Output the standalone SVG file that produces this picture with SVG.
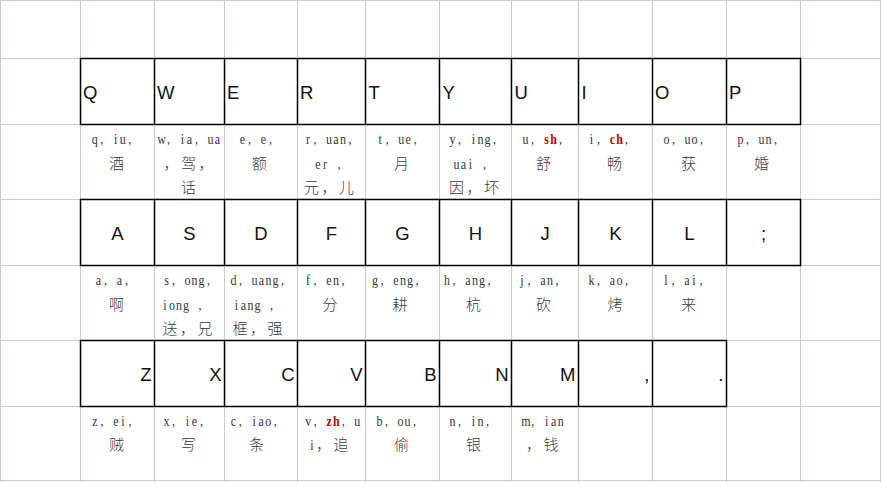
<svg xmlns="http://www.w3.org/2000/svg" width="881" height="482" viewBox="0 0 881 482">
<style>
.grid{stroke:#c9c9d9;stroke-width:1;fill:none}
.box{stroke:#000;stroke-width:1.5;fill:none}
.key{font-family:"Liberation Sans",Arial,sans-serif;font-size:18.5px;fill:#111}
.mid{text-anchor:middle}
.end{text-anchor:end}
.lat{font-family:"Liberation Serif","Times New Roman",serif;font-size:15px;text-anchor:middle;fill:#333}
.cjk{font-family:"Noto Sans CJK SC","Noto Sans CJK JP",sans-serif;font-size:15px;font-weight:300;letter-spacing:2.5px;fill:#3a3a3a}
.red{fill:#c00000;font-weight:bold}
</style>
<rect x="0" y="0" width="881" height="482" fill="#fff"/>
<g id="gridlines" class="grid">
<path d="M0.5 0V482M80.5 0V482M154.5 0V482M224.5 0V482M297.5 0V482M365.5 0V482M439.5 0V482M511.5 0V482M578.5 0V482M652.5 0V482M726.5 0V482M800.5 0V482M880.5 0V482"/>
<path d="M0 0.5H881M0 58.5H881M0 124.5H881M0 199.5H881M0 265.5H881M0 340.5H881M0 406.5H881M0 480.5H881"/>
</g>
<g id="borders" class="box">
<rect x="80.5" y="58.5" width="720" height="66"/>
<path d="M154.5 58.5V124.5M224.5 58.5V124.5M297.5 58.5V124.5M365.5 58.5V124.5M439.5 58.5V124.5M511.5 58.5V124.5M578.5 58.5V124.5M652.5 58.5V124.5M726.5 58.5V124.5"/>
<rect x="80.5" y="199.5" width="720" height="66"/>
<path d="M154.5 199.5V265.5M224.5 199.5V265.5M297.5 199.5V265.5M365.5 199.5V265.5M439.5 199.5V265.5M511.5 199.5V265.5M578.5 199.5V265.5M652.5 199.5V265.5M726.5 199.5V265.5"/>
<rect x="80.5" y="340.5" width="646" height="66"/>
<path d="M154.5 340.5V406.5M224.5 340.5V406.5M297.5 340.5V406.5M365.5 340.5V406.5M439.5 340.5V406.5M511.5 340.5V406.5M578.5 340.5V406.5M652.5 340.5V406.5"/>
</g>
<g id="row-qwerty">
<g id="key-Q"><text class="key" x="83" y="99">Q</text><text class="lat" transform="translate(91.2,144) scale(0.8,1)" x="4.375 13.125 21.875 30.625 39.375 48.125 56.875 65.625 74.375">q, iu,</text><text class="cjk" x="109" y="169">酒</text></g>
<g id="key-W"><text class="key" x="157" y="99">W</text><text class="lat" transform="translate(158,144) scale(0.8,1)" x="4.375 13.125 21.875 30.625 39.375 48.125 56.875 65.625 74.375">w, ia, ua</text><text class="cjk" x="163.5" y="169">，驾，</text><text class="cjk" x="181" y="192.5">话</text></g>
<g id="key-E"><text class="key" x="227" y="99">E</text><text class="lat" transform="translate(239,144) scale(0.8,1)" x="4.375 13.125 21.875 30.625 39.375 48.125 56.875 65.625 74.375">e, e,</text><text class="cjk" x="252" y="169">额</text></g>
<g id="key-R"><text class="key" x="300" y="99">R</text><text class="lat" transform="translate(304.5,144) scale(0.8,1)" x="4.375 13.125 21.875 30.625 39.375 48.125 56.875 65.625 74.375">r, uan,</text><text class="lat" transform="translate(314.5,169) scale(0.8,1)" x="4.375 13.125 21.875 30.625 39.375 48.125">er ,</text><text class="cjk" x="304" y="192.5">元，儿</text></g>
<g id="key-T"><text class="key" x="368.5" y="99">T</text><text class="lat" transform="translate(376.7,144) scale(0.8,1)" x="4.375 13.125 21.875 30.625 39.375 48.125 56.875 65.625 74.375">t, ue,</text><text class="cjk" x="394" y="169">月</text></g>
<g id="key-Y"><text class="key" x="442.5" y="99">Y</text><text class="lat" transform="translate(449,144) scale(0.8,1)" x="4.375 13.125 21.875 30.625 39.375 48.125 56.875 65.625 74.375">y, ing,</text><text class="lat" transform="translate(453,169) scale(0.8,1)" x="4.375 13.125 21.875 30.625 39.375 48.125">uai ,</text><text class="cjk" x="449" y="192.5">因，坏</text></g>
<g id="key-U"><text class="key" x="514.5" y="99">U</text><text class="lat" transform="translate(522,144) scale(0.8,1)" x="4.375 13.125 21.875 30.625 39.375 48.125 56.875 65.625 74.375">u, <tspan class="red">sh</tspan>,</text><text class="cjk" x="536" y="169">舒</text></g>
<g id="key-I"><text class="key" x="581.5" y="99">I</text><text class="lat" transform="translate(588,144) scale(0.8,1)" x="4.375 13.125 21.875 30.625 39.375 48.125 56.875 65.625 74.375">i, <tspan class="red">ch</tspan>,</text><text class="cjk" x="607" y="169">畅</text></g>
<g id="key-O"><text class="key" x="655" y="99">O</text><text class="lat" transform="translate(663,144) scale(0.8,1)" x="4.375 13.125 21.875 30.625 39.375 48.125 56.875 65.625 74.375">o, uo,</text><text class="cjk" x="681" y="169">获</text></g>
<g id="key-P"><text class="key" x="729" y="99">P</text><text class="lat" transform="translate(737,144) scale(0.8,1)" x="4.375 13.125 21.875 30.625 39.375 48.125 56.875 65.625 74.375">p, un,</text><text class="cjk" x="754" y="169">婚</text></g>
</g>
<g id="row-asdf">
<g id="key-A"><text class="key mid" x="117.5" y="239.5">A</text><text class="lat" transform="translate(95,285) scale(0.8,1)" x="4.375 13.125 21.875 30.625 39.375 48.125 56.875 65.625 74.375">a, a,</text><text class="cjk" x="109" y="309.5">啊</text></g>
<g id="key-S"><text class="key mid" x="189.5" y="239.5">S</text><text class="lat" transform="translate(163,285) scale(0.8,1)" x="4.375 13.125 21.875 30.625 39.375 48.125 56.875 65.625 74.375">s, ong,</text><text class="lat" transform="translate(161.5,309.5) scale(0.8,1)" x="4.375 13.125 21.875 30.625 39.375 48.125">iong ,</text><text class="cjk" x="162.5" y="333.5">送，兄</text></g>
<g id="key-D"><text class="key mid" x="261" y="239.5">D</text><text class="lat" transform="translate(230,285) scale(0.8,1)" x="4.375 13.125 21.875 30.625 39.375 48.125 56.875 65.625 74.375">d, uang,</text><text class="lat" transform="translate(233,309.5) scale(0.8,1)" x="4.375 13.125 21.875 30.625 39.375 48.125">iang ,</text><text class="cjk" x="232.5" y="333.5">框，强</text></g>
<g id="key-F"><text class="key mid" x="331.5" y="239.5">F</text><text class="lat" transform="translate(304.5,285) scale(0.8,1)" x="4.375 13.125 21.875 30.625 39.375 48.125 56.875 65.625 74.375">f, en,</text><text class="cjk" x="322.5" y="309.5">分</text></g>
<g id="key-G"><text class="key mid" x="402.5" y="239.5">G</text><text class="lat" transform="translate(371.5,285) scale(0.8,1)" x="4.375 13.125 21.875 30.625 39.375 48.125 56.875 65.625 74.375">g, eng,</text><text class="cjk" x="392.5" y="309.5">耕</text></g>
<g id="key-H"><text class="key mid" x="475.5" y="239.5">H</text><text class="lat" transform="translate(443.5,285) scale(0.8,1)" x="4.375 13.125 21.875 30.625 39.375 48.125 56.875 65.625 74.375">h, ang,</text><text class="cjk" x="466" y="309.5">杭</text></g>
<g id="key-J"><text class="key mid" x="545" y="239.5">J</text><text class="lat" transform="translate(518.5,285) scale(0.8,1)" x="4.375 13.125 21.875 30.625 39.375 48.125 56.875 65.625 74.375">j, an,</text><text class="cjk" x="536" y="309.5">砍</text></g>
<g id="key-K"><text class="key mid" x="615.5" y="239.5">K</text><text class="lat" transform="translate(588,285) scale(0.8,1)" x="4.375 13.125 21.875 30.625 39.375 48.125 56.875 65.625 74.375">k, ao,</text><text class="cjk" x="607.5" y="309.5">烤</text></g>
<g id="key-L"><text class="key mid" x="689.5" y="239.5">L</text><text class="lat" transform="translate(662.5,285) scale(0.8,1)" x="4.375 13.125 21.875 30.625 39.375 48.125 56.875 65.625 74.375">l, ai,</text><text class="cjk" x="681" y="309.5">来</text></g>
<g id="key-semicolon"><text class="key mid" x="763.5" y="239.5">;</text></g>
</g>
<g id="row-zxcv">
<g id="key-Z"><text class="key end" x="151.5" y="380.5">Z</text><text class="lat" transform="translate(91.5,426) scale(0.8,1)" x="4.375 13.125 21.875 30.625 39.375 48.125 56.875 65.625 74.375">z, ei,</text><text class="cjk" x="109" y="450">贼</text></g>
<g id="key-X"><text class="key end" x="221.5" y="380.5">X</text><text class="lat" transform="translate(163,426) scale(0.8,1)" x="4.375 13.125 21.875 30.625 39.375 48.125 56.875 65.625 74.375">x, ie,</text><text class="cjk" x="181" y="450">写</text></g>
<g id="key-C"><text class="key end" x="294.5" y="380.5">C</text><text class="lat" transform="translate(229.8,426) scale(0.8,1)" x="4.375 13.125 21.875 30.625 39.375 48.125 56.875 65.625 74.375">c, iao,</text><text class="cjk" x="249" y="450">条</text></g>
<g id="key-V"><text class="key end" x="362.5" y="380.5">V</text><text class="lat" transform="translate(304.8,426) scale(0.8,1)" x="4.375 13.125 21.875 30.625 39.375 48.125 56.875 65.625 74.375">v, <tspan class="red">zh</tspan>, u</text><text class="lat" transform="translate(308.5,450) scale(0.8,1)" x="4.375">i</text><text class="cjk" x="316" y="450">，追</text></g>
<g id="key-B"><text class="key end" x="436.5" y="380.5">B</text><text class="lat" transform="translate(376,426) scale(0.8,1)" x="4.375 13.125 21.875 30.625 39.375 48.125 56.875 65.625 74.375">b, ou,</text><text class="cjk" x="394" y="450">偷</text></g>
<g id="key-N"><text class="key end" x="508.5" y="380.5">N</text><text class="lat" transform="translate(449,426) scale(0.8,1)" x="4.375 13.125 21.875 30.625 39.375 48.125 56.875 65.625 74.375">n, in,</text><text class="cjk" x="466" y="450">银</text></g>
<g id="key-M"><text class="key end" x="575.5" y="380.5">M</text><text class="lat" transform="translate(522.3,426) scale(0.8,1)" x="4.375 13.125 21.875 30.625 39.375 48.125 56.875 65.625 74.375">m, ian</text><text class="cjk" x="526" y="450">，钱</text></g>
<g id="key-comma"><text class="key end" x="649.5" y="380.5">,</text></g>
<g id="key-period"><text class="key end" x="723.5" y="380.5">.</text></g>
</g>
</svg>
